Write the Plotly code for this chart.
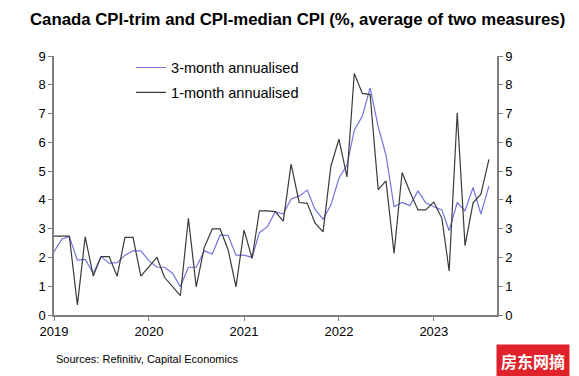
import plotly.graph_objects as go
import pandas as pd

months = pd.date_range("2019-01-01", "2023-08-01", freq="MS")

three_month = [2.2, 2.64, 2.72, 1.91, 1.93, 1.45, 2.03, 1.8, 1.82, 2.08, 2.23, 2.23,
               1.89, 1.66, 1.66, 1.45, 0.98, 1.66, 1.66, 2.23, 2.12, 2.78, 2.76, 2.08,
               2.08, 2.0, 2.86, 3.07, 3.59, 3.51, 4.03, 4.13, 4.34, 3.67, 3.33, 3.82,
               4.75, 5.21, 6.42, 6.91, 7.89, 6.54, 5.56, 3.76, 3.91, 3.8, 4.31, 3.9,
               3.76, 3.65, 2.93, 3.91, 3.62, 4.43, 3.51, 4.48]

one_month = [2.74, 2.74, 2.74, 0.35, 2.72, 1.35, 2.03, 2.03, 1.35, 2.7, 2.7, 1.35,
             1.68, 2.0, 1.31, 0.98, 0.67, 3.36, 0.98, 2.35, 2.99, 2.99, 2.26, 0.98,
             2.95, 1.97, 3.62, 3.62, 3.59, 3.26, 5.24, 3.91, 3.88, 3.2, 2.89, 5.17,
             6.11, 4.8, 8.39, 7.7, 7.66, 4.36, 4.66, 2.14, 4.95, 4.28, 3.65, 3.65,
             3.93, 3.36, 1.53, 7.03, 2.41, 3.9, 4.2, 5.41]

y_ticks = list(range(0, 10))
x_tick_years = ["2019-01-01", "2020-01-01", "2021-01-01", "2022-01-01", "2023-01-01"]
x_tick_labels = ["2019", "2020", "2021", "2022", "2023"]

FONT = "Liberation Sans, Arial, sans-serif"

fig = go.Figure()
fig.add_trace(go.Scatter(x=months, y=three_month, mode="lines",
                         name="3-month annualised", legendgroup="a",
                         line=dict(color="#7474dc", width=1.2)))
fig.add_trace(go.Scatter(x=months, y=one_month, mode="lines",
                         name="1-month annualised", legendgroup="b",
                         line=dict(color="#3a3a3a", width=1.2)))
# invisible trace to carry the right-hand axis
fig.add_trace(go.Scatter(x=[months[0]], y=[0], yaxis="y2", mode="lines",
                         showlegend=False, hoverinfo="skip",
                         line=dict(color="rgba(0,0,0,0)")))

axis_common = dict(range=[0, 9], tickvals=y_ticks, ticks="outside", ticklen=4,
                   tickcolor="#808080", showline=True, linecolor="#808080",
                   linewidth=1.5, showgrid=False, zeroline=False,
                   tickfont=dict(family=FONT, size=13, color="#000"))

fig.update_layout(
    width=579, height=376,
    margin=dict(l=54, r=82, t=56, b=61),
    paper_bgcolor="white", plot_bgcolor="white",
    title=dict(text="<b>Canada CPI-trim and CPI-median CPI (%, average of two measures)</b>",
               x=0.514, xanchor="center", y=0.949, yanchor="middle",
               font=dict(family=FONT, size=16.8, color="#000")),
    xaxis=dict(range=["2019-01-01", "2023-09-01"], tickvals=x_tick_years,
               ticktext=x_tick_labels, ticks="outside", ticklen=4,
               tickcolor="#808080", showline=True, linecolor="#808080",
               linewidth=1.5, showgrid=False, zeroline=False,
               tickfont=dict(family=FONT, size=13, color="#000")),
    yaxis=dict(side="left", **axis_common),
    yaxis2=dict(side="right", overlaying="y", **axis_common),
    legend=dict(x=0.174, y=1.017, xanchor="left", yanchor="top",
                bgcolor="rgba(0,0,0,0)", traceorder="grouped", tracegroupgap=3,
                font=dict(family=FONT, size=14.5, color="#000")),
    showlegend=True,
)

fig.add_annotation(text="Sources: Refinitiv, Capital Economics", xref="paper", yref="paper",
                   x=0.0, y=-0.17, xanchor="left", yanchor="middle", showarrow=False,
                   font=dict(family=FONT, size=11, color="#000"))
fig.add_annotation(text="<b>房东网摘</b>", xref="paper", yref="paper",
                   x=0.998, y=-0.112, xanchor="left", yanchor="top", showarrow=False,
                   bgcolor="#e0232a", borderpad=4,
                   font=dict(family="Noto Sans CJK SC", size=16, color="#fff"))

fig.write_html("out.html", config={"displayModeBar": False},
               post_script="document.body.style.margin='0';")
